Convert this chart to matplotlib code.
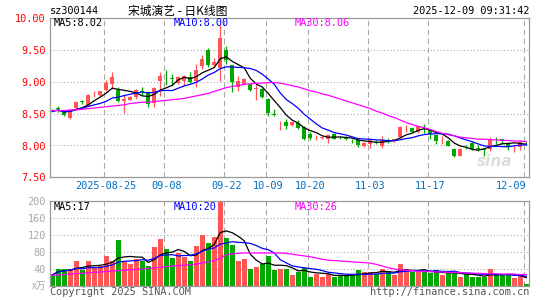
import matplotlib
matplotlib.use('Agg')
import matplotlib.pyplot as plt
import numpy as np
import pandas as pd

# daily candles 2025-08-12 .. 2025-12-09
opens = [8.55, 8.59, 8.55, 8.44, 8.59, 8.70, 8.63, 8.79, 8.79, 8.87,
         8.97, 8.88, 8.70, 8.72, 8.76, 8.86, 8.84, 8.67, 9.01, 9.05,
         9.06, 8.98, 9.02, 9.07, 9.01, 9.25, 9.50, 9.26, 9.22, 9.50,
         9.26, 8.92, 8.97, 8.96, 8.89, 8.89, 8.73, 8.49, 8.32, 8.37,
         8.33, 8.35, 8.29, 8.18, 8.13, 8.12, 8.10, 8.18, 8.14, 8.14,
         8.09, 8.09, 7.99, 8.03, 8.05, 8.00, 8.09, 8.07, 8.13, 8.27,
         8.28, 8.21, 8.25, 8.24, 8.16, 8.10, 8.07, 7.95, 7.84, 7.98,
         8.04, 7.96, 7.94, 7.94, 8.09, 8.10, 8.04, 7.97, 7.97, 8.03]
closes = [8.54, 8.57, 8.48, 8.56, 8.68, 8.68, 8.80, 8.80, 8.85, 8.99,
          9.07, 8.70, 8.73, 8.76, 8.87, 8.84, 8.65, 8.90, 9.10, 9.04,
          9.05, 9.07, 9.10, 9.00, 9.19, 9.36, 9.27, 9.31, 9.69, 9.34,
          9.00, 9.02, 9.05, 8.87, 8.89, 8.77, 8.51, 8.48, 8.33, 8.30,
          8.37, 8.28, 8.10, 8.12, 8.14, 8.12, 8.17, 8.11, 8.13, 8.10,
          8.08, 8.01, 8.04, 8.08, 8.04, 8.09, 8.08, 8.10, 8.29, 8.28,
          8.22, 8.30, 8.24, 8.18, 8.07, 8.11, 8.00, 7.83, 7.95, 7.97,
          7.94, 7.95, 7.93, 8.11, 8.08, 8.07, 7.97, 7.98, 8.06, 8.02]
highs = [8.57, 8.62, 8.56, 8.57, 8.70, 8.71, 8.81, 8.86, 8.86, 9.03,
         9.15, 8.92, 8.79, 8.78, 8.89, 8.92, 8.86, 8.92, 9.15, 9.18,
         9.13, 9.10, 9.11, 9.16, 9.28, 9.42, 9.54, 9.38, 9.90, 9.57,
         9.27, 9.10, 9.06, 8.97, 8.97, 8.90, 8.74, 8.58, 8.38, 8.41,
         8.38, 8.40, 8.30, 8.21, 8.17, 8.14, 8.18, 8.19, 8.15, 8.15,
         8.11, 8.10, 8.05, 8.09, 8.08, 8.15, 8.12, 8.11, 8.30, 8.32,
         8.29, 8.31, 8.34, 8.25, 8.17, 8.15, 8.08, 7.96, 7.96, 8.00,
         8.05, 8.00, 7.95, 8.13, 8.14, 8.11, 8.05, 8.00, 8.08, 8.05]
lows = [8.52, 8.53, 8.46, 8.41, 8.57, 8.66, 8.62, 8.77, 8.78, 8.85,
        8.89, 8.69, 8.51, 8.71, 8.73, 8.80, 8.60, 8.60, 8.78, 8.95,
        8.94, 8.97, 8.95, 8.98, 8.92, 9.21, 9.23, 9.24, 9.02, 9.28,
        8.84, 8.85, 8.96, 8.86, 8.71, 8.74, 8.46, 8.47, 8.24, 8.26,
        8.30, 8.26, 8.09, 8.09, 8.09, 8.10, 8.04, 8.10, 8.10, 8.09,
        8.04, 7.97, 7.97, 7.96, 8.02, 7.96, 8.04, 8.05, 8.12, 8.22,
        8.21, 8.19, 8.19, 8.11, 8.03, 8.03, 7.99, 7.82, 7.83, 7.95,
        7.93, 7.92, 7.83, 7.92, 8.03, 8.03, 7.93, 7.90, 7.93, 8.00]
ma30 = [8.55, 8.55, 8.55, 8.56, 8.56, 8.57, 8.58, 8.59, 8.60, 8.61,
        8.62, 8.63, 8.64, 8.66, 8.67, 8.68, 8.68, 8.69, 8.70, 8.71,
        8.72, 8.73, 8.74, 8.76, 8.78, 8.80, 8.82, 8.85, 8.88, 8.91,
        8.93, 8.94, 8.96, 8.97, 8.98, 8.98, 8.99, 8.99, 8.98, 8.96,
        8.94, 8.92, 8.89, 8.86, 8.84, 8.81, 8.79, 8.76, 8.73, 8.70,
        8.67, 8.64, 8.61, 8.58, 8.54, 8.51, 8.47, 8.44, 8.40, 8.36,
        8.33, 8.30, 8.28, 8.25, 8.22, 8.19, 8.17, 8.15, 8.13, 8.12,
        8.11, 8.10, 8.10, 8.09, 8.09, 8.08, 8.08, 8.07, 8.07, 8.06]

# volume (x万)
volumes = [25, 40, 40, 40, 57, 36, 57, 44, 45, 70,
           59, 107, 57, 51, 63, 57, 45, 90, 109, 86,
           65, 76, 67, 59, 93, 119, 100, 115, 200, 112,
           97, 58, 62, 40, 43, 52, 69, 36, 40, 38,
           26, 33, 42, 21, 28, 21, 28, 21, 23, 24,
           24, 36, 31, 33, 28, 40, 32, 24, 52, 38,
           33, 32, 33, 29, 36, 24, 29, 33, 21, 28,
           21, 19, 21, 38, 26, 24, 24, 17, 25, 3]
vol_ma30 = [24, 25, 26, 27, 28, 29, 30, 31, 32, 33,
            34, 35, 36, 37, 38, 39, 40, 42, 43, 45,
            46, 47, 48, 49, 51, 53, 56, 59, 64, 73,
            75, 76, 77, 77, 77, 77, 77, 77, 77, 76,
            74, 72, 70, 68, 65, 62, 60, 59, 58, 57,
            56, 55, 54, 53, 50, 46, 42, 39, 37, 36,
            35, 34, 33, 33, 32, 32, 31, 31, 30, 30,
            29, 29, 28, 28, 28, 27, 27, 27, 26, 26]

tick_idx = [9, 19, 29, 36, 43, 53, 63, 79]
tick_labels = ['2025-08-25', '09-08', '09-22', '10-09', '10-20', '11-03', '11-17', '12-09']

RED = '#FF5555'
GREEN = '#00A800'
GRID = '#AAAAAA'
MONO = 'DejaVu Sans Mono'

W, H = 545, 300
fig = plt.figure(figsize=(W / 100, H / 100), dpi=100)


def box(x0, y0, x1, y1):
    return [x0 / W, 1 - y1 / H, (x1 - x0) / W, (y1 - y0) / H]


def px(x, y):
    return x / W, 1 - y / H


ax = fig.add_axes(box(50, 18.3, 529.3, 177.3))
axv = fig.add_axes(box(50, 201, 529.3, 285.5))

x = np.arange(len(closes))
o = np.array(opens)
c = np.array(closes)
up = c >= o
cols = np.where(up, RED, GREEN)
xmin, xmax = -0.38, 79.5

# price panel
for yv in [8.0, 8.5, 9.0, 9.5]:
    ax.axhline(yv, color=GRID, lw=0.8, ls=(0, (1, 2)), zorder=1)
for t in tick_idx:
    ax.axvline(t - 0.333, color=GRID, lw=0.8, ls=(0, (5, 3)), zorder=1)
    axv.axvline(t - 0.333, color=GRID, lw=0.8, ls=(0, (5, 3)), zorder=1)

ax.vlines(x, lows, highs, colors=cols, lw=0.9, zorder=2)
body_h = np.maximum(np.abs(c - o), 0.007)
ax.bar(x, body_h, bottom=np.minimum(o, c), width=0.72, color=cols, lw=0, zorder=3)

s = pd.Series(closes)
ax.plot(x, s.rolling(5, min_periods=1).mean(), color='black', lw=0.9, zorder=4)
ax.plot(x, s.rolling(10, min_periods=1).mean(), color='#0000FF', lw=0.9, zorder=4)
ax.plot(x, ma30, color='#FF00FF', lw=0.9, zorder=4)

ax.set_xlim(xmin, xmax)
ax.set_ylim(7.5, 10.0)
ax.set_yticks([7.5, 8.0, 8.5, 9.0, 9.5, 10.0])
ax.set_yticklabels(['%.2f' % v for v in [7.5, 8.0, 8.5, 9.0, 9.5, 10.0]],
                   color='red', family=MONO, fontsize=7.4)
ax.set_xticks(tick_idx)
ax.set_xticklabels(tick_labels, color='#0070C0', family=MONO, fontsize=7.4)
ax.get_xticklabels()[-1].set_ha('right')
ax.tick_params(length=0, pad=3)

ax.text(0.965, 0.1, 'sina', transform=ax.transAxes, ha='right', va='center',
        fontsize=11, fontweight='bold', style='italic', color='#DDDDDD', zorder=0)

# volume panel
for yv in [40, 80, 120, 160]:
    axv.axhline(yv, color=GRID, lw=0.8, ls=(0, (1, 2)), zorder=1)
axv.bar(x, volumes, width=0.8, color=cols, lw=0, zorder=2)
vs = pd.Series(volumes)
axv.plot(x, vs.rolling(5, min_periods=1).mean(), color='black', lw=0.9, zorder=4)
axv.plot(x, vs.rolling(10, min_periods=1).mean(), color='#0000FF', lw=0.9, zorder=4)
axv.plot(x, vol_ma30, color='#FF00FF', lw=0.9, zorder=4)
axv.set_xlim(xmin, xmax)
axv.set_ylim(0, 200)
axv.set_yticks([40, 80, 120, 160, 200])
axv.set_yticklabels(['40', '80', '120', '160', '200'], color='#A8A8A8',
                    family=MONO, fontsize=7.4)
axv.set_xticks([])
axv.tick_params(length=0, pad=3)
axv.text(-0.008, 0.0, 'x万', transform=axv.transAxes, ha='right', va='center',
         color='#A8A8A8', fontsize=7, family=['Noto Sans CJK SC', 'DejaVu Sans'])

for a in (ax, axv):
    for sp in a.spines.values():
        sp.set_color('#999999')
        sp.set_linewidth(0.9)

# header and labels
fig.text(*px(50, 11.5), 'sz300144', family=MONO, fontsize=7.4, va='center', ha='left')
fig.text(*px(178, 11.5), '宋城演艺 - 日K线图', family=['Noto Sans CJK SC', 'DejaVu Sans'],
         fontsize=8.5, va='center', ha='center')
fig.text(*px(529, 11.5), '2025-12-09 09:31:42', family=MONO, fontsize=7.4,
         va='center', ha='right')

fig.text(*px(54, 23.5), 'MA5:8.02', family=MONO, fontsize=7.4, va='center', color='black')
fig.text(*px(174, 23.5), 'MA10:8.00', family=MONO, fontsize=7.4, va='center', color='#0000FF')
fig.text(*px(295, 23.5), 'MA30:8.06', family=MONO, fontsize=7.4, va='center', color='#FF00FF')

fig.text(*px(54, 206.5), 'MA5:17', family=MONO, fontsize=7.4, va='center', color='black')
fig.text(*px(174, 206.5), 'MA10:20', family=MONO, fontsize=7.4, va='center', color='#0000FF')
fig.text(*px(295, 206.5), 'MA30:26', family=MONO, fontsize=7.4, va='center', color='#FF00FF')

fig.text(*px(50, 292), 'Copyright 2025 SINA.COM', family=MONO, fontsize=7.4,
         va='center', ha='left', color='#555555')
fig.text(*px(529, 292), 'http://finance.sina.com.cn', family=MONO, fontsize=7.4,
         va='center', ha='right', color='#555555')

fig.savefig('out.png', dpi=100, facecolor='white')
